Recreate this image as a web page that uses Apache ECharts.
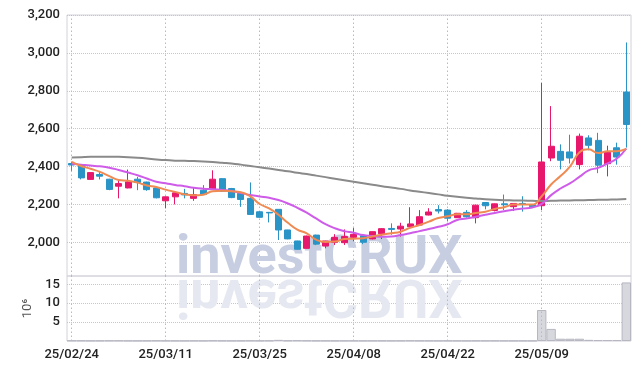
<!DOCTYPE html>
<html><head><meta charset="utf-8">
<script src="https://cdn.jsdelivr.net/npm/echarts/dist/echarts.min.js"></script>
<style>html,body{margin:0;padding:0;background:#fff;}#c{width:639px;height:370px;}</style>
</head><body><div id="c"></div>
<script>
const dates = ['25/02/24','25/02/25','25/02/26','25/02/27','25/02/28','25/03/04','25/03/05','25/03/06','25/03/07','25/03/10',
'25/03/11','25/03/12','25/03/13','25/03/14','25/03/17','25/03/18','25/03/19','25/03/20','25/03/21','25/03/24',
'25/03/25','25/03/26','25/03/27','25/03/28','25/03/31','25/04/01','25/04/02','25/04/03','25/04/04','25/04/07',
'25/04/08','25/04/09','25/04/10','25/04/11','25/04/14','25/04/15','25/04/16','25/04/17','25/04/18','25/04/21',
'25/04/22','25/04/23','25/04/24','25/04/25','25/04/28','25/04/29','25/04/30','25/05/02','25/05/07','25/05/08',
'25/05/09','25/05/12','25/05/13','25/05/14','25/05/15','25/05/16','25/05/19','25/05/20','25/05/21','25/05/22'];
const tickLabels = ['25/02/24','25/03/11','25/03/25','25/04/08','25/04/22','25/05/09'];
const opens = [2416,2410,2332,2358,2333,2296,2287,2333,2318,2287,
2219,2240,2258,2232,2275,2279,2336,2284,2258,2232,
2161,2158,2174,2065,2007,1968,2038,1980,2000,1998,
2026,2035,2018,2045,2073,2070,2082,2091,2144,2173,
2170,2130,2158,2130,2210,2168,2203,2188,2205,2197,
2193,2445,2480,2477,2410,2551,2538,2415,2499,2793];
const closes = [2408,2340,2368,2349,2279,2310,2319,2316,2278,2235,
2240,2261,2250,2252,2253,2333,2270,2236,2226,2147,
2132,2155,2065,2018,1963,2033,1990,2007,2026,2030,
2042,2000,2056,2072,2068,2085,2097,2135,2160,2165,
2127,2153,2135,2196,2193,2203,2198,2205,2200,2188,
2424,2507,2433,2445,2560,2512,2407,2475,2450,2622];
const lows = [2377,2332,2330,2332,2275,2232,2285,2275,2272,2232,
2179,2200,2232,2219,2250,2277,2268,2233,2187,2145,
2130,2105,2012,2016,1962,1967,1985,1968,1986,1986,
2005,1990,2015,2017,2040,2030,2080,2090,2142,2152,
2110,2128,2130,2100,2174,2163,2170,2165,2162,2185,
2170,2428,2385,2416,2385,2486,2365,2348,2410,2500];
const highs = [2426,2412,2370,2377,2335,2330,2384,2345,2320,2290,
2242,2262,2282,2289,2302,2380,2338,2287,2262,2316,
2165,2160,2175,2066,2008,2035,2040,2008,2043,2068,
2075,2038,2057,2075,2100,2103,2185,2170,2180,2196,
2175,2155,2170,2198,2211,2205,2252,2207,2243,2200,
2842,2719,2517,2568,2574,2565,2578,2510,2526,3055];
const ma5 = [2425,2403,2388,2372,2349,2329,2325,2315,2300,2292,
2278,2266,2253,2248,2251,2270,2272,2269,2264,2242,
2202,2179,2145,2103,2067,2047,2014,2002,2004,2017,
2019,2021,2031,2040,2048,2056,2076,2091,2109,2128,
2137,2148,2148,2155,2161,2176,2185,2199,2200,2199,
2243,2305,2350,2399,2474,2491,2471,2480,2481,2493];
const ma10 = [2415,2410,2405,2401,2394,2382,2368,2354,2337,2320,
2312,2303,2296,2288,2283,2280,2276,2271,2260,2250,
2242,2235,2223,2205,2182,2156,2126,2096,2074,2059,
2050,2038,2033,2029,2030,2038,2048,2059,2070,2082,
2095,2118,2125,2135,2145,2155,2164,2172,2178,2184,
2203,2249,2284,2311,2345,2380,2393,2416,2442,2495];
const maLong = [2447,2449,2451,2452,2452,2451,2449,2446,2442,2437,
2434,2431,2430,2429,2427,2424,2420,2416,2410,2403,
2396,2389,2382,2375,2367,2360,2352,2344,2336,2328,
2320,2312,2304,2296,2289,2282,2274,2267,2260,2253,
2246,2240,2235,2231,2227,2224,2222,2221,2220,2219,
2218,2219,2220,2221,2222,2223,2224,2225,2226,2228];
const volumes = [0.12,0.1,0.08,0.09,0.11,0.1,0.08,0.07,0.09,0.1,
0.08,0.07,0.06,0.08,0.07,0.12,0.09,0.07,0.08,0.1,
0.09,0.1,0.3,0.12,0.15,0.11,0.09,0.08,0.07,0.08,
0.09,0.07,0.08,0.09,0.07,0.08,0.1,0.09,0.08,0.07,
0.08,0.07,0.06,0.09,0.07,0.08,0.07,0.06,0.07,0.06,
8.2,3.2,0.6,0.6,0.6,0.3,0.25,0.25,0.25,15.5];

const UP = '#e7186c', DOWN = '#2b94c6';
const gridLine = {type:'dotted', color:'#c3c6d8', width:1};
const vLine = {type:[1.5,2.5], color:'#b4b8cc', width:1};
const labelFont = {color:'#222', fontSize:13, fontFamily:'Roboto', fontWeight:500};
const vlines = {silent:true, symbol:['none','none'], label:{show:false}, lineStyle:vLine,
  data: tickLabels.map(d => ({xAxis:d}))};

const chart = echarts.init(document.getElementById('c'), null, {renderer:'canvas'});
chart.setOption({
  animation:false,
  backgroundColor:'#fff',
  grid:[
    {left:67, right:8, top:15, height:261, show:true, borderColor:'#d2d2da', borderWidth:1},
    {left:67, right:8, top:276, height:65, show:true, borderColor:'#d2d2da', borderWidth:1}
  ],
  xAxis:[
    {type:'category', gridIndex:0, data:dates, axisLine:{show:false},
      axisTick:{show:false}, axisLabel:{show:false}, splitLine:{show:false}},
    {type:'category', gridIndex:1, data:dates, axisLine:{show:false},
      axisTick:{show:false}, splitLine:{show:false},
      axisLabel:Object.assign({interval:(i, v) => tickLabels.includes(v), margin:7}, labelFont)}
  ],
  yAxis:[
    {type:'value', gridIndex:0, min:1822, max:3200, splitNumber:7, minInterval:200, maxInterval:200,
      axisLine:{show:false}, axisTick:{show:false},
      axisLabel:Object.assign({showMinLabel:false, margin:7, formatter:v=>v.toLocaleString('en-US')}, labelFont),
      splitLine:{show:true, showMinLine:false, lineStyle:gridLine}},
    {type:'value', gridIndex:1, min:0, max:17.2, interval:5,
      axisLine:{show:false}, axisTick:{show:false},
      axisLabel:Object.assign({showMinLabel:false, showMaxLabel:false, margin:7}, labelFont),
      splitLine:{show:true, showMinLine:false, showMaxLine:false, lineStyle:gridLine},
      name:'10⁶', nameLocation:'middle', nameRotate:90, nameGap:29,
      nameTextStyle:{color:'#555', fontSize:13, fontFamily:'Roboto'}}
  ],
  graphic:[
    {type:'text', x:176, y:276, z:1, silent:true,
      style:{text:'investCRUX', x:0, y:10, font:'bold 54px Roboto', fill:'#c8cee2', textAlign:'left', textVerticalAlign:'bottom'}},
    {type:'text', x:176, y:276, z:1, scaleY:-1, silent:true,
      style:{text:'investCRUX', x:0, y:10, font:'bold 54px Roboto', fill:'#e6e8f1', textAlign:'left', textVerticalAlign:'bottom'}}
  ],
  series:[
    {type:'candlestick', xAxisIndex:0, yAxisIndex:0, z:2, barWidth:6.5,
      data: dates.map((d,i)=>[opens[i], closes[i], lows[i], highs[i]]),
      itemStyle:{color:UP, color0:DOWN, borderColor:UP, borderColor0:DOWN, borderWidth:1},
      markLine:Object.assign({z:0}, vlines)},
    {type:'line', xAxisIndex:0, yAxisIndex:0, z:3, data:maLong, smooth:true, showSymbol:false, lineStyle:{color:'#8a8a8a', width:2}},
    {type:'line', xAxisIndex:0, yAxisIndex:0, z:3, data:ma10, smooth:true, showSymbol:false, lineStyle:{color:'#cf5ce9', width:2}},
    {type:'line', xAxisIndex:0, yAxisIndex:0, z:3, data:ma5, smooth:true, showSymbol:false, lineStyle:{color:'#ef8a52', width:2}},
    {type:'bar', xAxisIndex:1, yAxisIndex:1, z:2, data:volumes, barCategoryGap:'0%',
      itemStyle:{color:'#d7d7de', borderColor:'#b7b7c2', borderWidth:1}, markLine:vlines}
  ]
});
</script></body></html>
